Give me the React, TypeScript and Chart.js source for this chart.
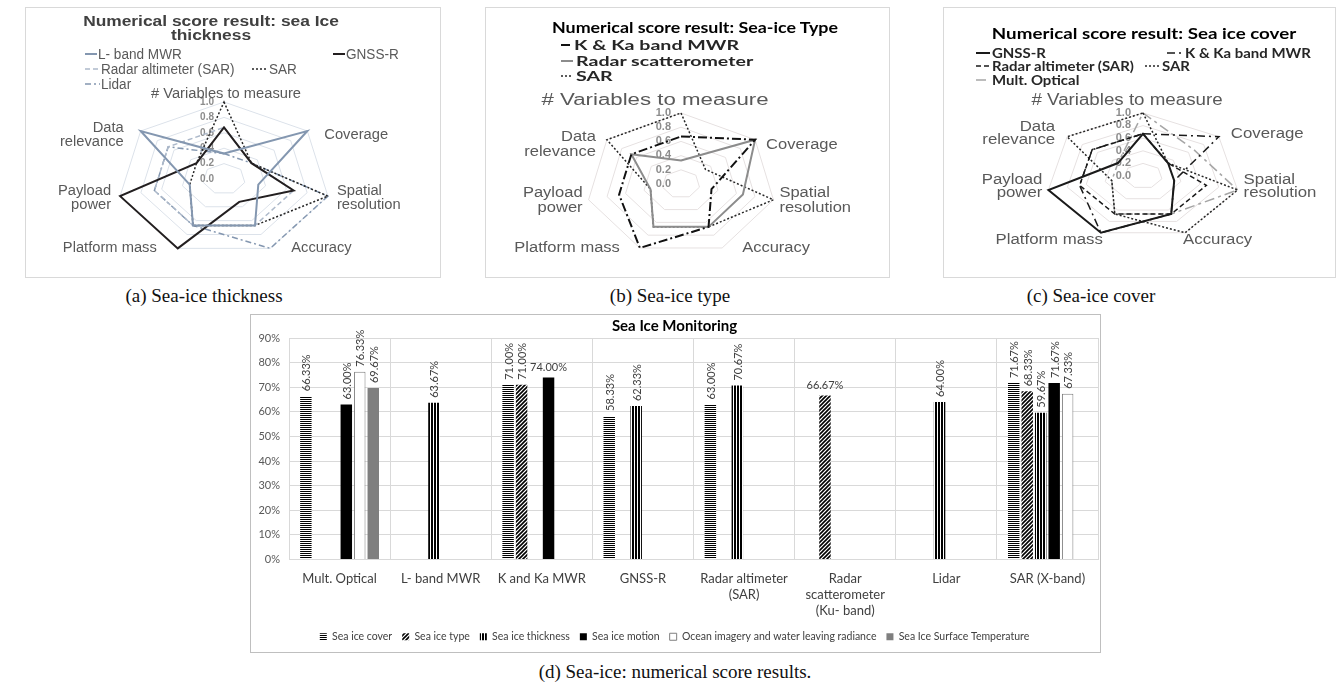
import React, { useEffect, useRef } from 'react';
import { Chart, registerables, RadialLinearScale } from 'chart.js';

Chart.register(...registerables);

// ---------------- DATA ----------------
const RADAR_AXES = [
  ['# Variables to measure'],
  ['Coverage'],
  ['Spatial', 'resolution'],
  ['Accuracy'],
  ['Platform mass'],
  ['Payload', 'power'],
  ['Data', 'relevance'],
];
const RADAR_TICKS = [0, 0.2, 0.4, 0.6, 0.8, 1.0];

// (a) sea-ice thickness
const THICKNESS_SERIES = ['L- band MWR', 'GNSS-R', 'Radar altimeter (SAR)', 'SAR', 'Lidar'];
const THICKNESS_L_BAND = [0.33, 1, 0.33, 0.67, 0.67, 0.33, 1];
const THICKNESS_GNSS_R = [0.67, 0.33, 0.67, 0.33, 1, 1, 0.33];
const THICKNESS_RADAR_ALT = [0.67, 0.33, 0.67, 0.67, 0.67, 0.67, 0.67];
const THICKNESS_SAR = [1, 0.33, 1, 0.67, 0.67, 0.33, 0.33];
const THICKNESS_LIDAR = [0.33, 0.33, 1, 1, 0.67, 0.67, 0.67];

// (b) sea-ice type
const TYPE_SERIES = ['K & Ka band MWR', 'Radar scatterometer', 'SAR'];
const TYPE_K_KA = [0.67, 1, 0.33, 0.67, 1, 0.67, 0.67];
const TYPE_SCATTEROMETER = [0.33, 1, 0.67, 0.67, 0.67, 0.33, 0.67];
const TYPE_SAR = [1, 0.33, 1, 0.67, 0.67, 0.33, 1];

// (c) sea-ice cover
const COVER_SERIES = ['GNSS-R', 'K & Ka band MWR', 'Radar altimeter (SAR)', 'SAR', 'Mult. Optical'];
const COVER_GNSS_R = [0.67, 0.33, 0.33, 0.67, 1, 1, 0.33];
const COVER_K_KA = [0.67, 1, 0.33, 0.67, 1, 0.67, 0.67];
const COVER_RADAR_ALT = [0.67, 0.33, 0.67, 0.67, 0.67, 0.67, 0.67];
const COVER_SAR = [1, 0.33, 1, 1, 0.67, 0.33, 1];
const COVER_MULT_OPTICAL = [1, 0.67, 1, 0.67, 0.67, 0.33, 0.33];

// (d) bar chart
const BAR_CATEGORIES = [
  ['Mult. Optical'],
  ['L- band MWR'],
  ['K and Ka MWR'],
  ['GNSS-R'],
  ['Radar altimeter', '(SAR)'],
  ['Radar', 'scatterometer', '(Ku- band)'],
  ['Lidar'],
  ['SAR (X-band)'],
];
const BAR_SERIES = [
  'Sea ice cover',
  'Sea ice type',
  'Sea ice thickness',
  'Sea ice motion',
  'Ocean imagery and water leaving radiance',
  'Sea Ice Surface Temperature',
];
const SEA_ICE_COVER = [66.33, null, 71.0, 58.33, 63.0, null, null, 71.67];
const SEA_ICE_TYPE = [null, null, 71.0, null, null, 66.67, null, 68.33];
const SEA_ICE_THICKNESS = [null, 63.67, null, 62.33, 70.67, null, 64.0, 59.67];
const SEA_ICE_MOTION = [63.0, null, 74.0, null, null, null, null, 71.67];
const OCEAN_IMAGERY = [76.33, null, null, null, null, null, null, 67.33];
const SURFACE_TEMP = [69.67, null, null, null, null, null, null, null];
const Y_MIN = 0;
const Y_MAX = 90;
const Y_STEP = 10;

// ---------------- radial scale with horizontal stretch ----------------
class StretchRadialScale extends (RadialLinearScale as any) {
  static id = 'stretchRadial';
  static defaults = (RadialLinearScale as any).defaults;
  setCenterPoint() {
    // keep centre and radius from the chart area
  }
  getPointPosition(index: number, distance: number, additionalAngle = 0) {
    const p = super.getPointPosition(index, distance, additionalAngle);
    const k = (this as any).options.stretch ?? 1;
    return { x: (this as any).xCenter + (p.x - (this as any).xCenter) * k, y: p.y, angle: p.angle };
  }
}
Chart.register(StretchRadialScale as any);

const radarTextPlugin = {
  id: 'radarText',
  beforeDatasetsDraw(chart: any, _a: any, o: any) {
    const scale = chart.scales.r;
    const ctx = chart.ctx;
    ctx.save();
    ctx.font = o.tickFont;
    ctx.fillStyle = o.tickColor;
    ctx.textAlign = 'right';
    ctx.textBaseline = 'middle';
    RADAR_TICKS.forEach((v) => {
      const d = scale.getDistanceFromCenterForValue(v);
      ctx.save();
      ctx.translate(scale.xCenter - o.tickGap, scale.yCenter - d);
      ctx.scale(o.tickScaleX, 1);
      ctx.fillText(v.toFixed(1), 0, 0);
      ctx.restore();
    });
    ctx.restore();
  },
  afterDraw(chart: any, _a: any, o: any) {
    const scale = chart.scales.r;
    const ctx = chart.ctx;
    const labels = chart.data.labels as string[][];
    const R = scale.drawingArea;
    ctx.save();
    ctx.fillStyle = o.color;
    ctx.textBaseline = 'middle';
    labels.forEach((lines, i) => {
      const a = scale.getIndexAngle(i);
      const s = Math.sin(a);
      const c = Math.cos(a);
      let x: number, y: number, align: string, font: string, sx: number;
      if (Math.abs(s) < 0.05) {
        const p = scale.getPointPosition(i, R + o.topGap);
        x = p.x + o.topDx; y = p.y; align = 'center'; font = o.topFont; sx = o.topScaleX;
      } else {
        const p = scale.getPointPosition(i, R);
        let gap: number, dy: number;
        if (c > 0.5) { gap = o.gapUpper; dy = o.dyUpper; }
        else if (c < -0.5) { gap = o.gapLower; dy = o.dyLower; }
        else { gap = o.gapSide; dy = o.dySide; }
        x = p.x + Math.sign(s) * gap;
        y = p.y + dy;
        align = s > 0 ? 'left' : 'right';
        font = o.font; sx = o.scaleX;
      }
      ctx.font = font;
      ctx.textAlign = align;
      const n = lines.length;
      lines.forEach((line, j) => {
        ctx.save();
        ctx.translate(x, y + (j - (n - 1) / 2) * o.lineHeight);
        ctx.scale(sx, 1);
        ctx.fillText(line, 0, 0);
        ctx.restore();
      });
    });
    ctx.restore();
  },
};

type LegendPos = [number, number, number];

type RadarSpec = {
  box: { left: number; top: number; width: number; height: number };
  stretch: number;
  padding: { left: number; right: number; top: number; bottom: number };
  series: string[];
  values: number[][];
  colors: string[];
  widths: number[];
  dashes: number[][];
  gridColor: string;
  text: any;
  title: string[];
  titleX: number;
  titleY: number[];
  titleStyle: React.CSSProperties;
  titleScaleX: number;
  legendPos: LegendPos[];
  legendGap: number;
  legendStyle: React.CSSProperties;
  legendScaleX: number;
};

const SANS = '"Liberation Sans", Arial, sans-serif';
const CAL = 'Lato, "Open Sans", sans-serif';

const RADAR_A: RadarSpec = {
  box: { left: 25, top: 7, width: 416, height: 271 },
  stretch: 1.384,
  padding: { left: 0, right: 17, top: 94, bottom: 20 },
  series: THICKNESS_SERIES,
  values: [THICKNESS_L_BAND, THICKNESS_GNSS_R, THICKNESS_RADAR_ALT, THICKNESS_SAR, THICKNESS_LIDAR],
  colors: ['#8497b0', '#231f20', '#adb9ca', '#262626', '#8497b0'],
  widths: [2, 2, 1.5, 1.5, 1.5],
  dashes: [[], [], [5, 3], [2, 2], [6, 3, 2, 3]],
  gridColor: '#dce2ea',
  text: {
    color: '#595959', font: `14px ${SANS}`, scaleX: 1.05, topFont: `14px ${SANS}`, topScaleX: 1.05,
    topGap: 8, topDx: 2, gapUpper: 17, gapSide: 9, gapLower: 21, dyUpper: 4, dySide: 2, dyLower: 0,
    lineHeight: 14, tickFont: `bold 10px ${SANS}`, tickColor: '#8c8c8c', tickGap: 10, tickScaleX: 1,
  },
  title: ['Numerical score result: sea Ice', 'thickness'],
  titleX: 211,
  titleY: [21, 35],
  titleStyle: { fontFamily: SANS, fontWeight: 'bold', fontSize: 14, color: '#404040' },
  titleScaleX: 1.24,
  legendPos: [[85, 54, 12], [333, 54, 12], [85, 69, 15], [252, 69, 16], [85, 84, 15]],
  legendGap: 1,
  legendStyle: { fontFamily: SANS, fontSize: 14, color: '#595959' },
  legendScaleX: 0.97,
};

const RADAR_B: RadarSpec = {
  box: { left: 485, top: 7, width: 405, height: 271 },
  stretch: 1.335,
  padding: { left: 0, right: 12, top: 105, bottom: 21 },
  series: TYPE_SERIES,
  values: [TYPE_K_KA, TYPE_SCATTEROMETER, TYPE_SAR],
  colors: ['#111111', '#8c8c8c', '#262626'],
  widths: [2, 2, 1.5],
  dashes: [[9, 3, 2, 3], [], [2, 2]],
  gridColor: '#e6e1e1',
  text: {
    color: '#595959', font: `14px ${SANS}`, scaleX: 1.18, topFont: `16px ${SANS}`, topScaleX: 1.39,
    topGap: 12.6, topDx: -26, gapUpper: 11, gapSide: 6, gapLower: 20, dyUpper: 5, dySide: 1, dyLower: 0,
    lineHeight: 15, tickFont: `bold 10px ${SANS}`, tickColor: '#8c8c8c', tickGap: 10, tickScaleX: 1.1,
  },
  title: ['Numerical score result: Sea-ice Type'],
  titleX: 695,
  titleY: [27],
  titleStyle: { fontFamily: CAL, fontWeight: 'bold', fontSize: 15, color: '#000' },
  titleScaleX: 1.19,
  legendPos: [[561, 45, 10], [561, 61, 12], [561, 76, 12]],
  legendGap: 3,
  legendStyle: { fontFamily: CAL, fontWeight: 'bold', fontSize: 14, color: '#262626' },
  legendScaleX: 1.4,
};

const RADAR_C: RadarSpec = {
  box: { left: 943, top: 7, width: 393, height: 271 },
  stretch: 1.54,
  padding: { left: 8, right: 0, top: 105, bottom: 38 },
  series: COVER_SERIES,
  values: [COVER_GNSS_R, COVER_K_KA, COVER_RADAR_ALT, COVER_SAR, COVER_MULT_OPTICAL],
  colors: ['#1a1a1a', '#1a1a1a', '#1a1a1a', '#262626', '#a6a6a6'],
  widths: [2, 1.5, 1.5, 1.5, 1.5],
  dashes: [[], [8, 4, 2, 4], [5, 3], [2, 2], [10, 4, 3, 4]],
  gridColor: '#e6e1e1',
  text: {
    color: '#595959', font: `14px ${SANS}`, scaleX: 1.2, topFont: `16px ${SANS}`, topScaleX: 1.17,
    topGap: 12.7, topDx: -16, gapUpper: 12, gapSide: 6, gapLower: -2, dyUpper: -3, dySide: -3, dyLower: 7,
    lineHeight: 13, tickFont: `bold 10px ${SANS}`, tickColor: '#8c8c8c', tickGap: 12, tickScaleX: 1.1,
  },
  title: ['Numerical score result: Sea ice cover'],
  titleX: 1143.5,
  titleY: [33],
  titleStyle: { fontFamily: CAL, fontWeight: 'bold', fontSize: 15, color: '#000' },
  titleScaleX: 1.25,
  legendPos: [[976, 53, 14], [1167, 53, 16], [976, 66, 14], [1145, 66, 15], [976, 80, 14]],
  legendGap: 2,
  legendStyle: { fontFamily: CAL, fontWeight: 'bold', fontSize: 13, color: '#262626' },
  legendScaleX: 1.15,
};

function RadarPanel({ spec }: { spec: RadarSpec }) {
  const ref = useRef<HTMLCanvasElement>(null);
  useEffect(() => {
    const chart = new Chart(ref.current as HTMLCanvasElement, {
      type: 'radar',
      data: {
        labels: RADAR_AXES as any,
        datasets: spec.series.map((name, i) => ({
          label: name,
          data: spec.values[i],
          borderColor: spec.colors[i],
          borderWidth: spec.widths[i],
          borderDash: spec.dashes[i],
          backgroundColor: 'transparent',
          fill: false,
          pointRadius: 0,
          pointHoverRadius: 0,
          clip: false as any,
        })),
      },
      options: {
        animation: false,
        responsive: true,
        maintainAspectRatio: false,
        events: [],
        layout: { padding: spec.padding },
        plugins: {
          legend: { display: false },
          title: { display: false },
          tooltip: { enabled: false },
          radarText: spec.text,
        } as any,
        scales: {
          r: {
            type: 'stretchRadial',
            stretch: spec.stretch,
            min: 0,
            max: 1,
            ticks: { display: false, stepSize: 0.2 },
            grid: { color: spec.gridColor, lineWidth: 1 },
            angleLines: { display: false },
            pointLabels: { display: false },
          } as any,
        },
      },
      plugins: [radarTextPlugin as any],
    });
    return () => chart.destroy();
  }, []);

  const b = spec.box;
  return (
    <>
      <div
        style={{
          position: 'absolute', left: b.left, top: b.top, width: b.width, height: b.height,
          border: '1px solid #d9d9d9', boxSizing: 'border-box', background: '#fff',
        }}
      >
        <canvas ref={ref} />
      </div>
      {spec.title.map((line, i) => (
        <div
          key={'t' + i}
          style={{
            position: 'absolute', left: spec.titleX - 300, width: 600, top: spec.titleY[i] - 10,
            height: 20, lineHeight: '20px', textAlign: 'center', whiteSpace: 'nowrap',
            transform: `scaleX(${spec.titleScaleX})`, ...spec.titleStyle,
          }}
        >
          {line}
        </div>
      ))}
      {spec.series.map((name, i) => {
        const [x, y, len] = spec.legendPos[i];
        return (
          <div
            key={'l' + i}
            style={{
              position: 'absolute', left: x, top: y - 10, height: 20, display: 'flex',
              alignItems: 'center', whiteSpace: 'nowrap',
            }}
          >
            <svg width={len} height={6} style={{ display: 'block' }}>
              <line
                x1={0} y1={3} x2={len} y2={3}
                stroke={spec.colors[i]}
                strokeWidth={spec.widths[i]}
                strokeDasharray={spec.dashes[i].length ? spec.dashes[i].join(' ') : undefined}
              />
            </svg>
            <span
              style={{
                display: 'inline-block', marginLeft: spec.legendGap, transformOrigin: '0 50%',
                transform: `scaleX(${spec.legendScaleX})`, lineHeight: '20px', ...spec.legendStyle,
              }}
            >
              {name}
            </span>
          </div>
        );
      })}
    </>
  );
}

// ---------------- bar chart ----------------
function makePattern(kind: string): CanvasPattern | string {
  const c = document.createElement('canvas');
  const g = c.getContext('2d');
  if (!g) return '#000';
  if (kind === 'hlines') {
    c.width = 4; c.height = 2;
    g.fillStyle = '#fff'; g.fillRect(0, 0, 4, 2);
    g.fillStyle = '#000'; g.fillRect(0, 0, 4, 1);
  } else if (kind === 'vlines') {
    c.width = 3; c.height = 4;
    g.fillStyle = '#fff'; g.fillRect(0, 0, 3, 4);
    g.fillStyle = '#000'; g.fillRect(0, 0, 2, 4);
  } else {
    c.width = 4; c.height = 4;
    g.fillStyle = '#fff'; g.fillRect(0, 0, 4, 4);
    g.strokeStyle = '#000'; g.lineWidth = 1.6;
    g.beginPath();
    g.moveTo(-1, 5); g.lineTo(5, -1);
    g.moveTo(-1, 1); g.lineTo(1, -1);
    g.moveTo(3, 5); g.lineTo(5, 3);
    g.stroke();
  }
  return g.createPattern(c, 'repeat') || '#000';
}

const HORIZONTAL_LABELS: [number, number][] = [[3, 2], [1, 5]];

const barValuePlugin = {
  id: 'barValues',
  afterDatasetsDraw(chart: any) {
    const ctx = chart.ctx;
    ctx.save();
    ctx.font = `11px ${CAL}`;
    ctx.fillStyle = '#404040';
    chart.data.datasets.forEach((ds: any, di: number) => {
      const meta = chart.getDatasetMeta(di);
      meta.data.forEach((bar: any, i: number) => {
        const v = ds.data[i];
        if (v === null || v === undefined) return;
        const text = v.toFixed(2) + '%';
        const horizontal = HORIZONTAL_LABELS.some(([d, c]) => d === di && c === i);
        ctx.save();
        if (horizontal) {
          ctx.textAlign = 'center';
          ctx.textBaseline = 'bottom';
          ctx.fillText(text, bar.x, bar.y - 4);
        } else {
          ctx.translate(bar.x + 1, bar.y - 5);
          ctx.rotate(-Math.PI / 2);
          ctx.textAlign = 'left';
          ctx.textBaseline = 'middle';
          ctx.fillText(text, 0, 0);
        }
        ctx.restore();
      });
    });
    ctx.restore();
  },
};

function BarPanel() {
  const ref = useRef<HTMLCanvasElement>(null);
  useEffect(() => {
    const fills = [makePattern('hlines'), makePattern('diag'), makePattern('vlines'), '#000000', '#ffffff', '#7f7f7f'];
    const seriesData = [SEA_ICE_COVER, SEA_ICE_TYPE, SEA_ICE_THICKNESS, SEA_ICE_MOTION, OCEAN_IMAGERY, SURFACE_TEMP];
    const chart = new Chart(ref.current as HTMLCanvasElement, {
      type: 'bar',
      data: {
        labels: BAR_CATEGORIES as any,
        datasets: BAR_SERIES.map((name, i) => ({
          label: name,
          data: seriesData[i] as any,
          backgroundColor: fills[i] as any,
          borderColor: i === 4 ? '#7f7f7f' : 'rgba(0,0,0,0)',
          borderWidth: i === 4 ? 1 : 0,
          categoryPercentage: 0.8,
          barPercentage: 0.85,
        })),
      },
      options: {
        animation: false,
        responsive: true,
        maintainAspectRatio: false,
        events: [],
        layout: { padding: { left: 0, right: 2, top: 0, bottom: 0 } },
        plugins: {
          title: {
            display: true,
            text: 'Sea Ice Monitoring',
            font: { family: CAL, size: 15, weight: 'bold' },
            color: '#000',
            padding: { top: 2, bottom: 3 },
          },
          legend: {
            position: 'bottom',
            labels: {
              boxWidth: 7,
              boxHeight: 7,
              font: { family: CAL, size: 10.5 },
              color: '#404040',
              padding: 10,
            },
          },
          tooltip: { enabled: false },
        },
        scales: {
          x: {
            grid: { color: '#d9d9d9', drawTicks: false, offset: true },
            border: { color: '#d9d9d9' },
            ticks: { font: { family: CAL, size: 13 }, color: '#404040', padding: 12, maxRotation: 0, autoSkip: false },
            afterFit: (s: any) => { s.height = 62; },
          },
          y: {
            min: Y_MIN,
            max: Y_MAX,
            ticks: {
              stepSize: Y_STEP,
              callback: (v: any) => v + '%',
              font: { family: CAL, size: 11 },
              color: '#595959',
              padding: 9,
            },
            grid: { color: '#d9d9d9', drawTicks: false },
            border: { display: false },
            afterFit: (s: any) => { s.width = 38; },
          },
        },
      },
      plugins: [barValuePlugin as any],
    });
    return () => chart.destroy();
  }, []);
  return (
    <div
      style={{
        position: 'absolute', left: 250, top: 314, width: 851, height: 339,
        border: '1px solid #bfbfbf', boxSizing: 'border-box', background: '#fff',
      }}
    >
      <canvas ref={ref} />
    </div>
  );
}

const CAPTIONS: [string, number, number][] = [
  ['(a) Sea-ice thickness', 204, 296],
  ['(b) Sea-ice type', 670, 296],
  ['(c) Sea-ice cover', 1091, 296],
  ['(d) Sea-ice: numerical score results.', 675, 672],
];

export default function App() {
  return (
    <div style={{ position: 'absolute', left: 0, top: 0, width: 1343, height: 687, background: '#fff', overflow: 'hidden' }}>
      <RadarPanel spec={RADAR_A} />
      <RadarPanel spec={RADAR_B} />
      <RadarPanel spec={RADAR_C} />
      <BarPanel />
      {CAPTIONS.map(([text, cx, cy], i) => (
        <div
          key={i}
          style={{
            position: 'absolute', left: cx - 300, width: 600, top: cy - 11, height: 22, lineHeight: '22px',
            textAlign: 'center', fontFamily: '"Liberation Serif", "Times New Roman", serif', fontSize: 19,
            color: '#111', whiteSpace: 'nowrap',
          }}
        >
          {text}
        </div>
      ))}
    </div>
  );
}
